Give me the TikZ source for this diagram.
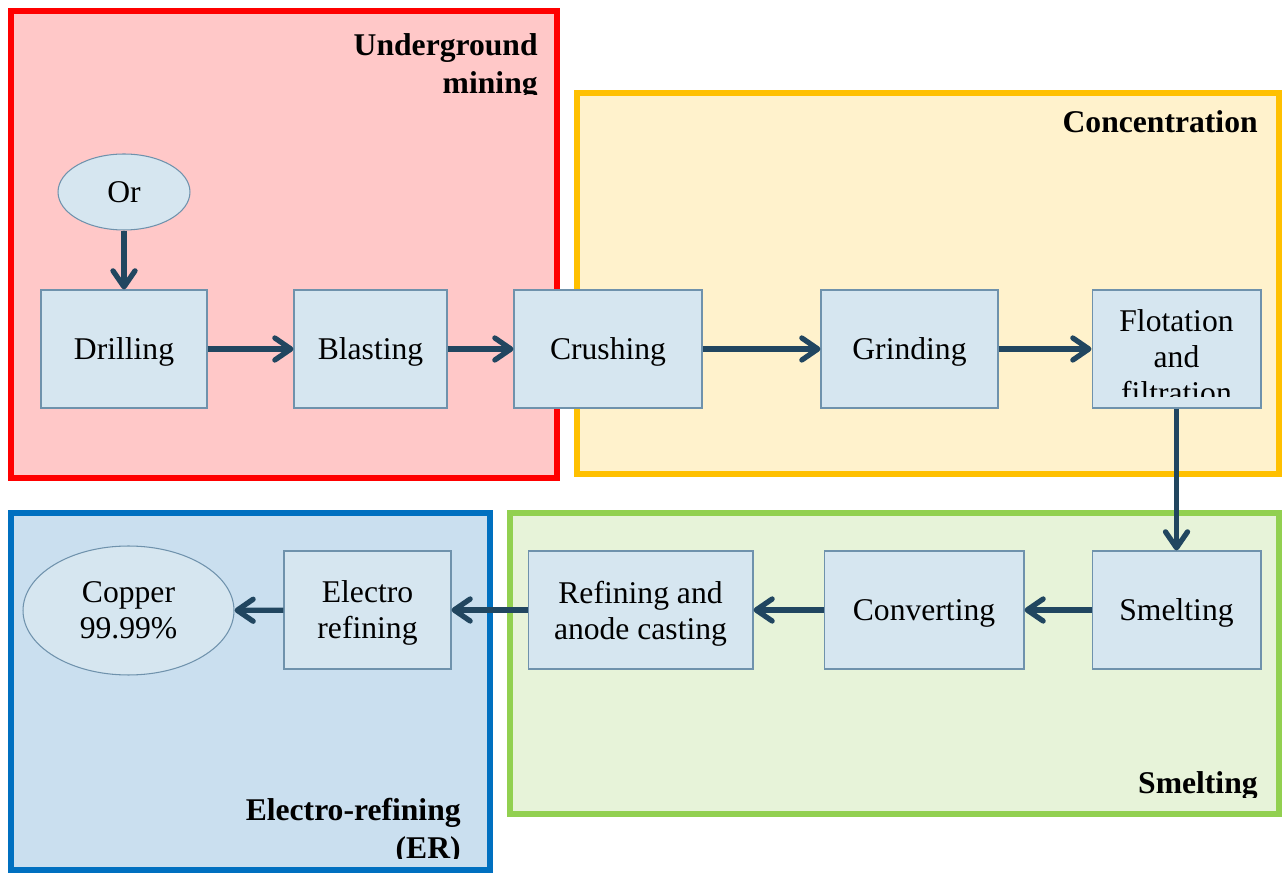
\documentclass[tikz,border=0pt]{standalone}
\usepackage{fontspec}
\setmainfont{Liberation Serif}
\usetikzlibrary{shapes.geometric,arrows.meta}

\definecolor{mineline}{HTML}{FF0000}
\definecolor{minefill}{HTML}{FFC8C8}
\definecolor{concline}{HTML}{FFC000}
\definecolor{concfill}{HTML}{FFF2CC}
\definecolor{erline}{HTML}{0070C0}
\definecolor{erfill}{HTML}{CADFEF}
\definecolor{smeltline}{HTML}{92D050}
\definecolor{smeltfill}{HTML}{E7F3D9}
\definecolor{boxfill}{HTML}{D6E6F0}
\definecolor{boxline}{HTML}{6F92AC}
\definecolor{flowcol}{HTML}{214660}

\begin{document}
\begin{tikzpicture}[x=0.02cm,y=-0.02cm]
% Estilos
\tikzset{zone/.style={line width=3.4pt},
    stage/.style={rectangle,draw=boxline,fill=boxfill,line width=0.6pt,inner sep=0pt,minimum height=2.36cm,text depth=0pt,align=center,font=\fontsize{18}{20.5}\selectfont},
    ore/.style={ellipse,draw=boxline,fill=boxfill,line width=0.6pt,inner sep=0pt,text depth=0pt,align=center,font=\fontsize{18}{20.5}\selectfont},
    zonetitle/.style={anchor=north east,inner sep=0pt,align=right,font=\fontsize{18}{21.5}\selectfont\bfseries},
    flow/.style={draw=flowcol,line width=3pt,-{Straight Barb[length=3.2mm,width=4.4mm,round]}}}

\useasboundingbox (0,0) rectangle (1285,874);

% Zonas
\draw[zone,draw=mineline,fill=minefill] (11,11) rectangle (557,478);
\draw[zone,draw=concline,fill=concfill] (577,93) rectangle (1279,474);
\draw[zone,draw=erline,fill=erfill] (11,513) rectangle (490,870);
\draw[zone,draw=smeltline,fill=smeltfill] (510,513) rectangle (1279,814);

\begin{scope}
\clip (11,11) rectangle (557,95);
\node[zonetitle] (tmine) at (538,33) {Underground\\mining};
\end{scope}
\node[zonetitle] (tconc) at (1258,110) {Concentration};
\begin{scope}
\clip (510,513) rectangle (1279,797);
\node[zonetitle] (tsmelt) at (1258,771) {Smelting};
\end{scope}
\begin{scope}
\clip (11,513) rectangle (490,858);
\node[zonetitle] (ter) at (461,798) {Electro-refining\\(ER)};
\end{scope}

% Etapas
\node[ore,minimum width=2.64cm,minimum height=1.52cm] (ore) at (124,192) {Or};
\node[stage,minimum width=3.32cm] (drill) at (124,349) {Drilling};
\node[stage,minimum width=3.06cm] (blast) at (370.5,349) {Blasting};
\node[stage,minimum width=3.76cm] (crush) at (608,349) {Crushing};
\node[stage,minimum width=3.54cm] (grind) at (909.5,349) {Grinding};
\node[stage,minimum width=3.38cm] (flot) at (1176.5,349) {};
\begin{scope}
\clip (1093,290) rectangle (1261,397);
\node[align=center,inner sep=0pt,font=\fontsize{18}{20.5}\selectfont] (flottext) at (1176.5,357) {Flotation\\and\\filtration};
\end{scope}

\node[stage,minimum width=3.38cm] (smelt) at (1176.5,610) {Smelting};
\node[stage,minimum width=4.0cm] (conv) at (924,610) {Converting};
\node[stage,minimum width=4.5cm] (refin) at (640.5,610) {Refining and\\anode casting};
\node[stage,minimum width=3.34cm] (elec) at (367.5,610) {Electro\\refining};
\node[ore,minimum width=4.22cm,minimum height=2.58cm] (copper) at (128.5,610.5) {Copper\\99.99\%};

% Fluxo
\draw[flow] (ore) -- (drill);
\draw[flow] (drill) -- (blast);
\draw[flow] (blast) -- (crush);
\draw[flow] (crush) -- (grind);
\draw[flow] (grind) -- (flot);
\draw[flow] (flot) -- (smelt);
\draw[flow] (smelt) -- (conv);
\draw[flow] (conv) -- (refin);
\draw[flow] (refin) -- (elec);
\draw[flow] (elec) -- (copper);

\end{tikzpicture}
\end{document}
